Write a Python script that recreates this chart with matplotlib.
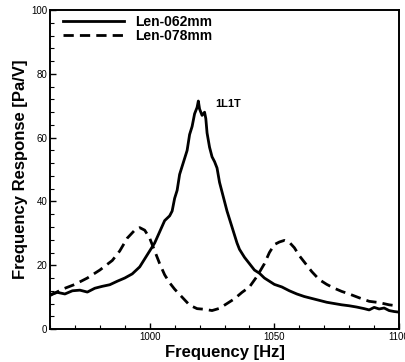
import matplotlib
matplotlib.use("Agg")
import matplotlib.pyplot as plt
from matplotlib.ticker import MultipleLocator

plt.rcParams['font.family'] = ['Liberation Sans', 'DejaVu Sans']

# Len-062mm (solid)
freq_062 = [960, 963, 966, 969, 972, 975, 978, 981, 984, 987, 990, 993, 996, 998, 1000,
            1002, 1004, 1006, 1008, 1009, 1010, 1011, 1012, 1013, 1014, 1015, 1016, 1017,
            1018, 1019, 1019.5, 1020, 1021, 1022, 1022.5, 1023, 1024, 1025, 1026, 1027,
            1028, 1029, 1030, 1031, 1032, 1033, 1034, 1035, 1036, 1038, 1040, 1042, 1044,
            1046, 1048, 1050, 1053, 1056, 1059, 1062, 1065, 1068, 1071, 1074, 1077, 1080,
            1083, 1086, 1088, 1090, 1092, 1094, 1096, 1098, 1100]
resp_062 = [10.8, 11.5, 11.0, 12.0, 12.2, 11.6, 12.8, 13.4, 13.9, 15.0, 16.0, 17.3, 19.5, 22.0, 24.5,
            27.0, 30.5, 34.0, 35.5, 37.0, 41.0, 43.5, 48.5, 51.0, 53.5, 56.0, 61.0, 63.5,
            67.5, 69.5, 71.5, 69.0, 67.0, 68.0, 66.0, 61.5, 57.0, 54.0, 52.5, 50.5,
            46.0, 43.0, 40.0, 37.0, 34.5, 32.0, 29.5, 27.0, 25.0, 22.5, 20.5, 18.5, 17.5,
            16.0, 15.0, 14.0, 13.2, 12.0, 11.0, 10.2, 9.6, 9.0, 8.4, 8.0, 7.6, 7.3,
            6.9, 6.4, 6.0, 6.8, 6.3, 6.6, 5.8, 5.5, 5.3]

# Len-078mm (dashed)
freq_078 = [960, 965, 970, 975, 980, 985, 988, 991, 994, 996, 998, 1000, 1002, 1004,
            1006, 1008, 1010, 1013, 1016, 1019, 1022, 1025, 1028, 1031, 1034, 1037, 1040,
            1043, 1046, 1048, 1050, 1052, 1054, 1056, 1058, 1060, 1062, 1065, 1068, 1071,
            1074, 1077, 1080, 1084, 1088, 1092, 1096, 1100]
resp_078 = [10.5, 12.5, 14.0, 16.0, 18.5, 21.5, 24.5, 28.5, 31.0, 31.8, 31.0, 28.5, 24.5, 20.5,
            17.0, 14.5, 12.5, 10.0, 7.5, 6.4, 6.2, 5.8, 6.5, 8.0, 9.5, 11.5, 13.2,
            16.5, 20.5, 24.0, 26.5, 27.3, 27.8, 27.2, 25.5, 23.0, 21.0, 18.0, 15.5, 14.0,
            12.8, 11.8, 11.0, 9.8, 8.7, 8.3, 7.6, 7.2]

labels = ['Len-062mm', 'Len-078mm']

fig = plt.figure(figsize=(4.06, 3.62), dpi=100)
ax = fig.add_axes([0.123, 0.091, 0.860, 0.881])

ax.plot(freq_062, resp_062, color='black', lw=2.0, label=labels[0])
ax.plot(freq_078, resp_078, color='black', lw=2.0, ls=(0, (3.7, 2.2)), label=labels[1])

ax.set_xlim(960, 1100)
ax.set_ylim(0, 100)
ax.xaxis.set_major_locator(MultipleLocator(50))
ax.xaxis.set_minor_locator(MultipleLocator(10))
ax.yaxis.set_major_locator(MultipleLocator(20))
ax.yaxis.set_minor_locator(MultipleLocator(4))
ax.tick_params(which='both', direction='in', labelsize=7, pad=2)
ax.tick_params(which='major', length=4.5, width=1)
ax.tick_params(which='minor', length=3, width=0.8)
for sp in ax.spines.values():
    sp.set_linewidth(1.4)

ax.set_xlabel('Frequency [Hz]', fontsize=12, fontweight='bold', labelpad=2)
ax.set_ylabel('Frequency Response [Pa/V]', fontsize=12, fontweight='bold', labelpad=2)

ax.text(1026.3, 70.5, '1L1T', fontsize=8, fontweight='bold', ha='left', va='center')

# legend placed by hand so the handles start where the original ones do
leg = ax.legend(loc='upper left', bbox_to_anchor=(0.037, 0.985), frameon=False,
                prop={'weight': 'bold', 'size': 10},
                handlelength=4.4, handletextpad=0.8, borderaxespad=0, borderpad=0,
                labelspacing=0.0)

fig.savefig('out.png', dpi=100)
